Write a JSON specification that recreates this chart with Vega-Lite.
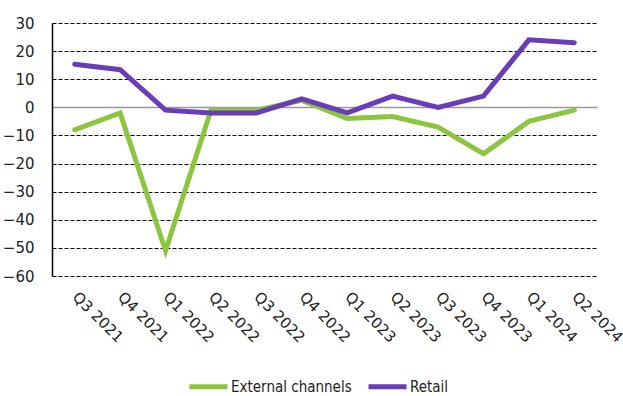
{
  "$schema": "https://vega.github.io/schema/vega-lite/v6.json",
  "width": 545,
  "height": 253,
  "autosize": {"type": "none"},
  "padding": {"left": 52, "top": 23, "right": 26, "bottom": 120},
  "background": "white",
  "data": {
    "values": [
      {"q": "Q3 2021", "series": "External channels", "v": -8},
      {"q": "Q4 2021", "series": "External channels", "v": -2},
      {"q": "Q1 2022", "series": "External channels", "v": -51},
      {"q": "Q2 2022", "series": "External channels", "v": -1},
      {"q": "Q3 2022", "series": "External channels", "v": -1},
      {"q": "Q4 2022", "series": "External channels", "v": 2.5},
      {"q": "Q1 2023", "series": "External channels", "v": -4},
      {"q": "Q2 2023", "series": "External channels", "v": -3.3},
      {"q": "Q3 2023", "series": "External channels", "v": -7},
      {"q": "Q4 2023", "series": "External channels", "v": -16.5},
      {"q": "Q1 2024", "series": "External channels", "v": -5},
      {"q": "Q2 2024", "series": "External channels", "v": -1},
      {"q": "Q3 2021", "series": "Retail", "v": 15.3},
      {"q": "Q4 2021", "series": "Retail", "v": 13.4},
      {"q": "Q1 2022", "series": "Retail", "v": -1},
      {"q": "Q2 2022", "series": "Retail", "v": -2},
      {"q": "Q3 2022", "series": "Retail", "v": -2},
      {"q": "Q4 2022", "series": "Retail", "v": 3},
      {"q": "Q1 2023", "series": "Retail", "v": -2},
      {"q": "Q2 2023", "series": "Retail", "v": 4},
      {"q": "Q3 2023", "series": "Retail", "v": 0},
      {"q": "Q4 2023", "series": "Retail", "v": 4},
      {"q": "Q1 2024", "series": "Retail", "v": 24},
      {"q": "Q2 2024", "series": "Retail", "v": 23}
    ]
  },
  "mark": {"type": "line", "strokeWidth": 5, "strokeCap": "round", "strokeJoin": "miter"},
  "encoding": {
    "x": {
      "field": "q",
      "type": "ordinal",
      "sort": null,
      "scale": {"type": "point", "padding": 0.5},
      "axis": {
        "title": null,
        "domain": false,
        "ticks": false,
        "labelAngle": 45,
        "labelAlign": "left",
        "labelBaseline": "middle",
        "labelPadding": 18,
        "labelFont": "DejaVu Sans",
        "labelFontSize": 15,
        "labelColor": "#222222"
      }
    },
    "y": {
      "field": "v",
      "type": "quantitative",
      "scale": {"domain": [-60, 30], "nice": false, "zero": false},
      "axis": {
        "title": null,
        "values": [-60, -50, -40, -30, -20, -10, 0, 10, 20, 30],
        "domain": true,
        "domainColor": "black",
        "domainWidth": 1.5,
        "ticks": false,
        "labelPadding": 18,
        "labelFont": "DejaVu Sans",
        "labelFontSize": 15,
        "labelColor": "#222222",
        "grid": true,
        "gridColor": {"condition": {"test": "datum.value === 0", "value": "#9a9a9a"}, "value": "black"},
        "gridDash": {"condition": {"test": "datum.value === 0", "value": []}, "value": [4, 2]},
        "gridWidth": {"condition": {"test": "datum.value === 0", "value": 1.5}, "value": 1.2}
      }
    },
    "color": {
      "field": "series",
      "type": "nominal",
      "scale": {"domain": ["External channels", "Retail"], "range": ["#8CC63E", "#6A3DB8"]},
      "legend": {
        "title": null,
        "orient": "none",
        "legendX": 135,
        "legendY": 342,
        "direction": "horizontal",
        "symbolType": "stroke",
        "symbolSize": 1444,
        "symbolStrokeWidth": 5,
        "labelFont": "DejaVu Sans Condensed, Roboto",
        "labelFontSize": 15,
        "labelColor": "#222222",
        "labelOffset": 1,
        "columnPadding": 6
      }
    }
  },
  "config": {"view": {"stroke": null}}
}
